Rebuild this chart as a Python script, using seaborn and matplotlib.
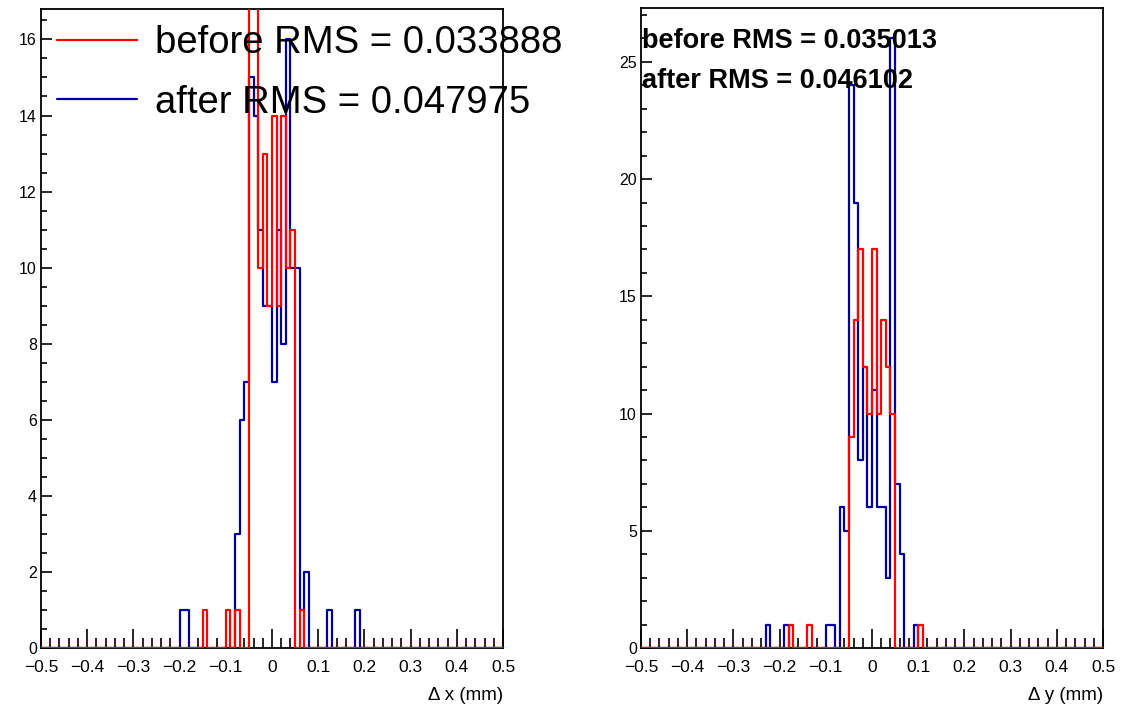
import numpy as np
import pandas as pd
import seaborn as sns
import matplotlib.pyplot as plt
from matplotlib.ticker import MultipleLocator, FuncFormatter

# 100 bins of 0.01 mm on [-0.5, 0.5]
edges = np.round(np.linspace(-0.5, 0.5, 101), 3)
centers = np.round((edges[:-1] + edges[1:]) / 2, 4)

# lower edge of every non-empty bin and its entries
dx_before_bins = [-0.15, -0.10, -0.08, -0.05, -0.04, -0.03, -0.02, -0.01, 0.00,
                  0.01, 0.02, 0.03, 0.04, 0.06]
dx_before_cnt = [1, 1, 1, 20, 20, 10, 13, 9, 14, 9, 14, 10, 11, 1]
dx_after_bins = [-0.20, -0.19, -0.08, -0.07, -0.06, -0.05, -0.04, -0.03, -0.02,
                 -0.01, 0.00, 0.01, 0.02, 0.03, 0.04, 0.05, 0.06, 0.07, 0.12, 0.18]
dx_after_cnt = [1, 1, 3, 6, 7, 15, 14, 11, 9, 9, 7, 11, 8, 16, 10, 10, 1, 2, 1, 1]

dy_before_bins = [-0.18, -0.14, -0.05, -0.04, -0.03, -0.02, -0.01, 0.00, 0.01,
                  0.02, 0.03, 0.04, 0.10]
dy_before_cnt = [1, 1, 9, 14, 17, 12, 10, 17, 10, 14, 12, 10, 1]
dy_after_bins = [-0.23, -0.19, -0.10, -0.09, -0.07, -0.06, -0.05, -0.04, -0.03,
                 -0.02, -0.01, 0.00, 0.01, 0.02, 0.03, 0.04, 0.05, 0.06, 0.09]
dy_after_cnt = [1, 1, 1, 1, 6, 5, 24, 19, 8, 12, 6, 11, 6, 6, 3, 26, 7, 4, 1]

rms_text = {"dx": ("before RMS = 0.033888", "after RMS = 0.047975"),
            "dy": ("before RMS = 0.035013", "after RMS = 0.046102")}


def fill_bins(lows, counts):
    # spread the sparse bin list onto the full 100 bin array
    h = np.zeros(len(centers))
    for lo, c in zip(lows, counts):
        h[int(round((lo + 0.5) / 0.01))] = c
    return h


df = pd.DataFrame({
    "center": centers,
    "dx_before": fill_bins(dx_before_bins, dx_before_cnt),
    "dx_after": fill_bins(dx_after_bins, dx_after_cnt),
    "dy_before": fill_bins(dy_before_bins, dy_before_cnt),
    "dy_after": fill_bins(dy_after_bins, dy_after_cnt),
})

sns.set_style("ticks")
plt.rcParams["font.family"] = ["Liberation Sans", "DejaVu Sans"]
for k in ["text.color", "axes.labelcolor", "xtick.color", "ytick.color"]:
    plt.rcParams[k] = "black"

RED = "#ff0000"
BLUE = "#000099"

fig = plt.figure(figsize=(11.4, 7.04), dpi=100)
ax1 = fig.add_axes([41 / 1140, 1 - 648 / 704, 462 / 1140, 639 / 704])
ax2 = fig.add_axes([641 / 1140, 1 - 648 / 704, 462 / 1140, 640 / 704])

fmt = FuncFormatter(lambda v, p: "0" if abs(v) < 1e-9 else f"{v:g}".replace("-", "\u2212"))
bin_list = edges.tolist()

for ax, key, ymax, ymaj, ymin_, xlabel in [(ax1, "dx", 16.8, 2, 0.5, "\u0394 x (mm)"),
                                          (ax2, "dy", 27.3, 5, 1, "\u0394 y (mm)")]:
    sns.histplot(data=df, x="center", weights=f"{key}_after", bins=bin_list,
                 element="step", fill=False, color=BLUE, linewidth=1.6,
                 ax=ax, label=rms_text[key][1], zorder=2)
    sns.histplot(data=df, x="center", weights=f"{key}_before", bins=bin_list,
                 element="step", fill=False, color=RED, linewidth=1.6,
                 ax=ax, label=rms_text[key][0], zorder=3)
    ax.set_xlim(-0.5, 0.5)
    ax.set_ylim(0, ymax)
    ax.xaxis.set_major_locator(MultipleLocator(0.1))
    ax.xaxis.set_minor_locator(MultipleLocator(0.02))
    ax.yaxis.set_major_locator(MultipleLocator(ymaj))
    ax.yaxis.set_minor_locator(MultipleLocator(ymin_))
    ax.xaxis.set_major_formatter(fmt)
    ax.tick_params(axis="x", which="major", direction="in", length=14, width=1.2,
                   labelsize=12.5, pad=9, top=False)
    ax.tick_params(axis="x", which="minor", direction="in", length=7.5, width=1.2, top=False)
    ax.tick_params(axis="y", which="major", direction="in", length=8, width=1.2,
                   labelsize=11.5, pad=3, right=False)
    ax.tick_params(axis="y", which="minor", direction="in", length=4, width=1.2, right=False)
    for s in ax.spines.values():
        s.set_visible(True)
        s.set_linewidth(1.3)
        s.set_color("black")
    ax.set_ylabel("")
    ax.set_xlabel(xlabel, fontsize=13.5, loc="right", labelpad=8)

# big legend on the left pad (red entry first)
h, l = ax1.get_legend_handles_labels()
ax1.legend(h[::-1], l[::-1], loc="upper left", bbox_to_anchor=(0.035, 1 - 16 / 639),
           frameon=False, fontsize=27.5, handlelength=2.1, handletextpad=0.45,
           labelspacing=0.62, borderaxespad=0.0, borderpad=0.0)

# plain bold RMS lines on the right pad
ax2.text(0.002, 1 - 33 / 640, rms_text["dy"][0], transform=ax2.transAxes,
         fontsize=19.5, fontweight="bold", va="center", ha="left")
ax2.text(0.002, 1 - 73 / 640, rms_text["dy"][1], transform=ax2.transAxes,
         fontsize=19.5, fontweight="bold", va="center", ha="left")

fig.savefig("out.png", dpi=100)
